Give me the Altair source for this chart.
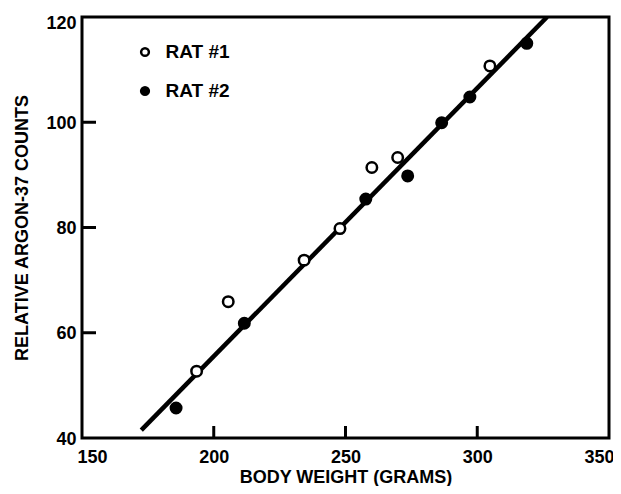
import altair as alt
import pandas as pd

# ---- data ----
rat1_weight = [193.5, 205.5, 234.3, 247.9, 260.0, 269.8, 304.8]
rat1_counts = [52.7, 65.9, 73.8, 79.8, 91.4, 93.3, 110.7]
rat2_weight = [185.7, 211.6, 257.7, 273.6, 286.5, 297.2, 318.8]
rat2_counts = [45.7, 61.8, 85.4, 89.8, 99.9, 104.8, 115.0]
fit_weight = [172.5, 326.5]
fit_counts = [41.5, 120.0]
series = ["RAT #1", "RAT #2"]
x_tick_values = [150, 200, 250, 300, 350]
y_tick_values = [40, 60, 80, 100, 120]
x_inner_ticks = [200, 250, 300]
y_inner_ticks = [60, 80, 100]

FONT = "Liberation Sans"
W, H = 527, 421

pts = pd.DataFrame({
    "weight": rat1_weight + rat2_weight,
    "counts": rat1_counts + rat2_counts,
    "rat": [series[0]] * len(rat1_weight) + [series[1]] * len(rat2_weight),
})
fit = pd.DataFrame({"weight": fit_weight, "counts": fit_counts})
xt_df = pd.DataFrame({"weight": x_inner_ticks})
yt_df = pd.DataFrame({"counts": y_inner_ticks})

xsc = alt.Scale(domain=[150, 350], nice=False, zero=False)
ysc = alt.Scale(domain=[40, 120], nice=False, zero=False)

xaxis = alt.Axis(title="BODY WEIGHT (GRAMS)", values=x_tick_values, ticks=False,
                 domain=False, grid=False, labelFlush=True, labelFlushOffset=5,
                 labelPadding=10, format="d", titlePadding=2)
yaxis = alt.Axis(title="RELATIVE ARGON-37 COUNTS", values=y_tick_values, ticks=False,
                 domain=False, grid=False, labelPadding=6, titlePadding=14, format="d",
                 labelBaseline={"condition": {"test": "datum.value === 120", "value": "top"},
                                "value": "middle"},
                 labelOffset={"condition": {"test": "datum.value === 120", "value": -3},
                              "value": 1})

X = alt.X("weight:Q", scale=xsc, axis=xaxis)
Y = alt.Y("counts:Q", scale=ysc, axis=yaxis)

line = alt.Chart(fit).mark_line(color="black", strokeWidth=4.5, clip=True).encode(x=X, y=Y)

xt = alt.Chart(xt_df).mark_rule(color="black", strokeWidth=3).encode(
    x=X, y=alt.value(H), y2=alt.value(H - 12))
yt = alt.Chart(yt_df).mark_rule(color="black", strokeWidth=3).encode(
    y=Y, x=alt.value(0), x2=alt.value(14))

points = alt.Chart(pts).mark_point(shape="circle", filled=True, size=110, stroke="black",
                                   strokeWidth=2.5, opacity=1).encode(
    x=X, y=Y,
    fill=alt.Fill("rat:N", scale=alt.Scale(domain=series, range=["white", "black"]),
                  legend=alt.Legend(title=None, orient="none", legendX=53.5, legendY=25.5,
                                    symbolType="circle", symbolSize=60,
                                    symbolStrokeColor="black", symbolStrokeWidth=2.5,
                                    labelOffset=11, rowPadding=19, padding=0,
                                    labelFont=FONT, labelFontSize=19,
                                    labelFontWeight="bold", labelColor="black")),
)

chart = alt.layer(line, xt, yt, points).properties(
    width=W, height=H,
    padding={"left": 74, "top": 9, "right": 4, "bottom": 48},
    autosize=alt.AutoSizeParams(type="none"),
).configure_view(stroke="black", strokeWidth=3).configure_axis(
    labelFont=FONT, titleFont=FONT, labelFontSize=18, titleFontSize=18,
    labelFontWeight="bold", titleFontWeight="bold",
    labelColor="black", titleColor="black",
)

chart.save("out.html", embed_options={"renderer": "svg", "actions": False})
